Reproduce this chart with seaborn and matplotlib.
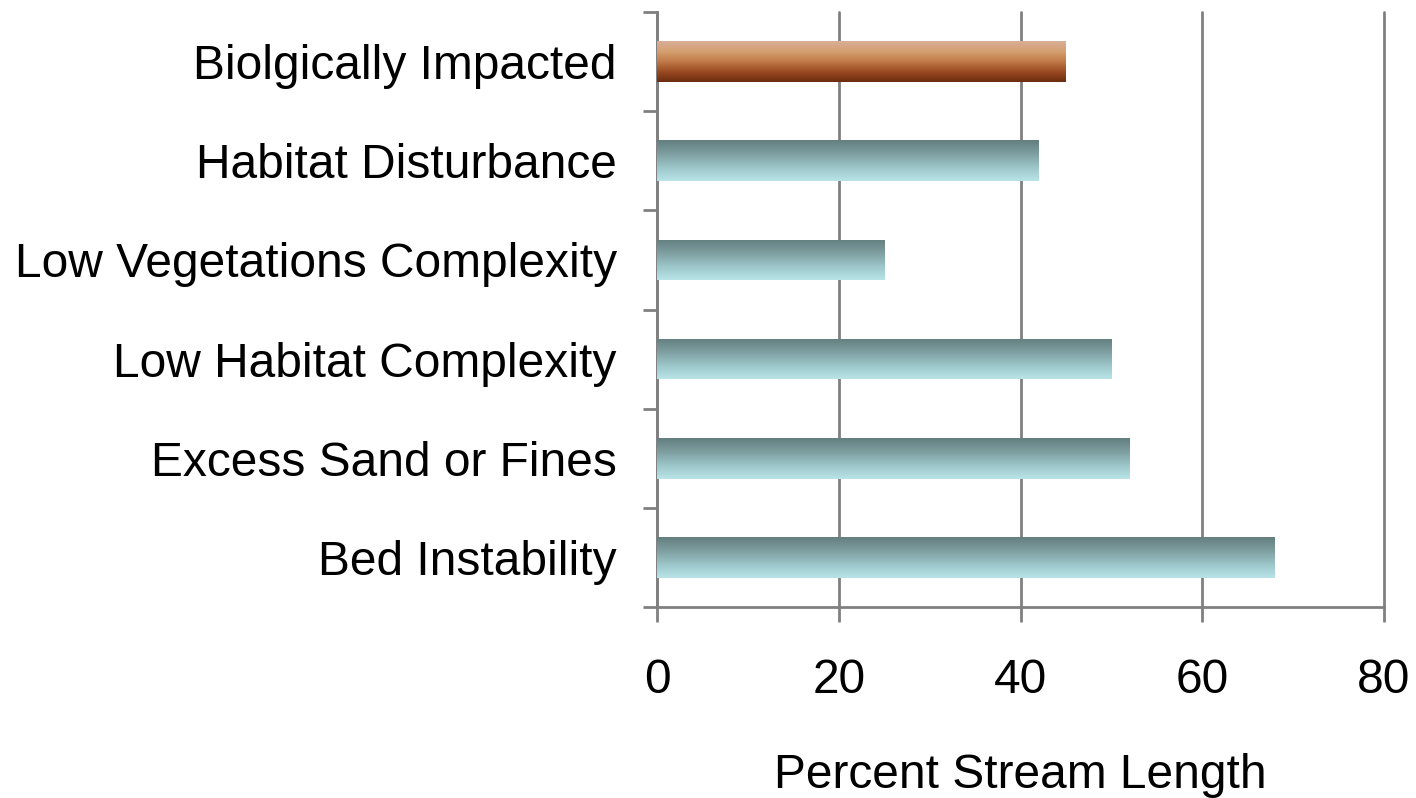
import numpy as np
import pandas as pd
import matplotlib
matplotlib.use("Agg")
import matplotlib.pyplot as plt
import seaborn as sns
from matplotlib.colors import LinearSegmentedColormap

categories = ["Biolgically Impacted", "Habitat Disturbance", "Low Vegetations Complexity",
              "Low Habitat Complexity", "Excess Sand or Fines", "Bed Instability"]
values = [45, 42, 25, 50, 52, 68]
x_ticks = [0, 20, 40, 60, 80]
x_label = "Percent Stream Length"

sns.set_theme(style="white")
plt.rcParams['font.family'] = ['Liberation Sans', 'DejaVu Sans']

df = pd.DataFrame({"cat": categories, "val": values})

fig = plt.figure(figsize=(14.16, 7.98), dpi=100)
ax = fig.add_axes([657/1416, 1 - 607/798, (1384 - 657)/1416, (607 - 12)/798])

sns.barplot(data=df, y="cat", x="val", orient="h", width=0.41, color="#8fb8bb", ax=ax)

teal = LinearSegmentedColormap.from_list("teal", ["#B9E4E8", "#9CC6C9", "#7E9EA0", "#637E7F"])
brown = LinearSegmentedColormap.from_list("brown", ["#6A2C0E", "#9A4A22", "#C07A48", "#D5A070", "#D8AE98"])
grad = np.linspace(0, 1, 256).reshape(-1, 1)

for i, p in enumerate(ax.patches):
    x0, y0 = p.get_x(), p.get_y()
    w, h = p.get_width(), p.get_height()
    cmap = brown if i == 0 else teal
    im = ax.imshow(grad, cmap=cmap, aspect="auto", extent=[x0, x0 + w, y0 + h, y0],
                   origin="lower", zorder=3, interpolation="bilinear")
    im.set_clip_path(p)
    p.set_facecolor("none")
    p.set_edgecolor("none")
    p.set_zorder(3)

ax.set_xlim(0, 80)
ax.set_ylim(5.5, -0.5)
ax.set_xticks(x_ticks)
ax.set_xticklabels([str(t) for t in x_ticks])
ax.xaxis.grid(True, color="#808080", linewidth=2)
ax.set_axisbelow(True)
for gl in ax.get_xgridlines():
    gl.set_clip_on(False)

for s in ["top", "right"]:
    ax.spines[s].set_visible(False)
for s in ["left", "bottom"]:
    ax.spines[s].set_color("#808080")
    ax.spines[s].set_linewidth(2)

fs = 34.5
ax.set_yticks(np.arange(-0.5, 6.0, 1.0), minor=True)
ax.tick_params(axis="y", which="major", length=0, pad=29, labelsize=fs, labelcolor="black")
ax.tick_params(axis="y", which="minor", length=10, width=2, color="#808080", direction="out", left=True)
ax.tick_params(axis="x", which="major", length=11, width=2, color="#808080", direction="out",
               bottom=True, pad=26, labelsize=fs, labelcolor="black")

ax.set_ylabel("")
ax.set_xlabel(x_label, fontsize=fs, color="black", labelpad=36)

fig.savefig("out.png", dpi=100)
